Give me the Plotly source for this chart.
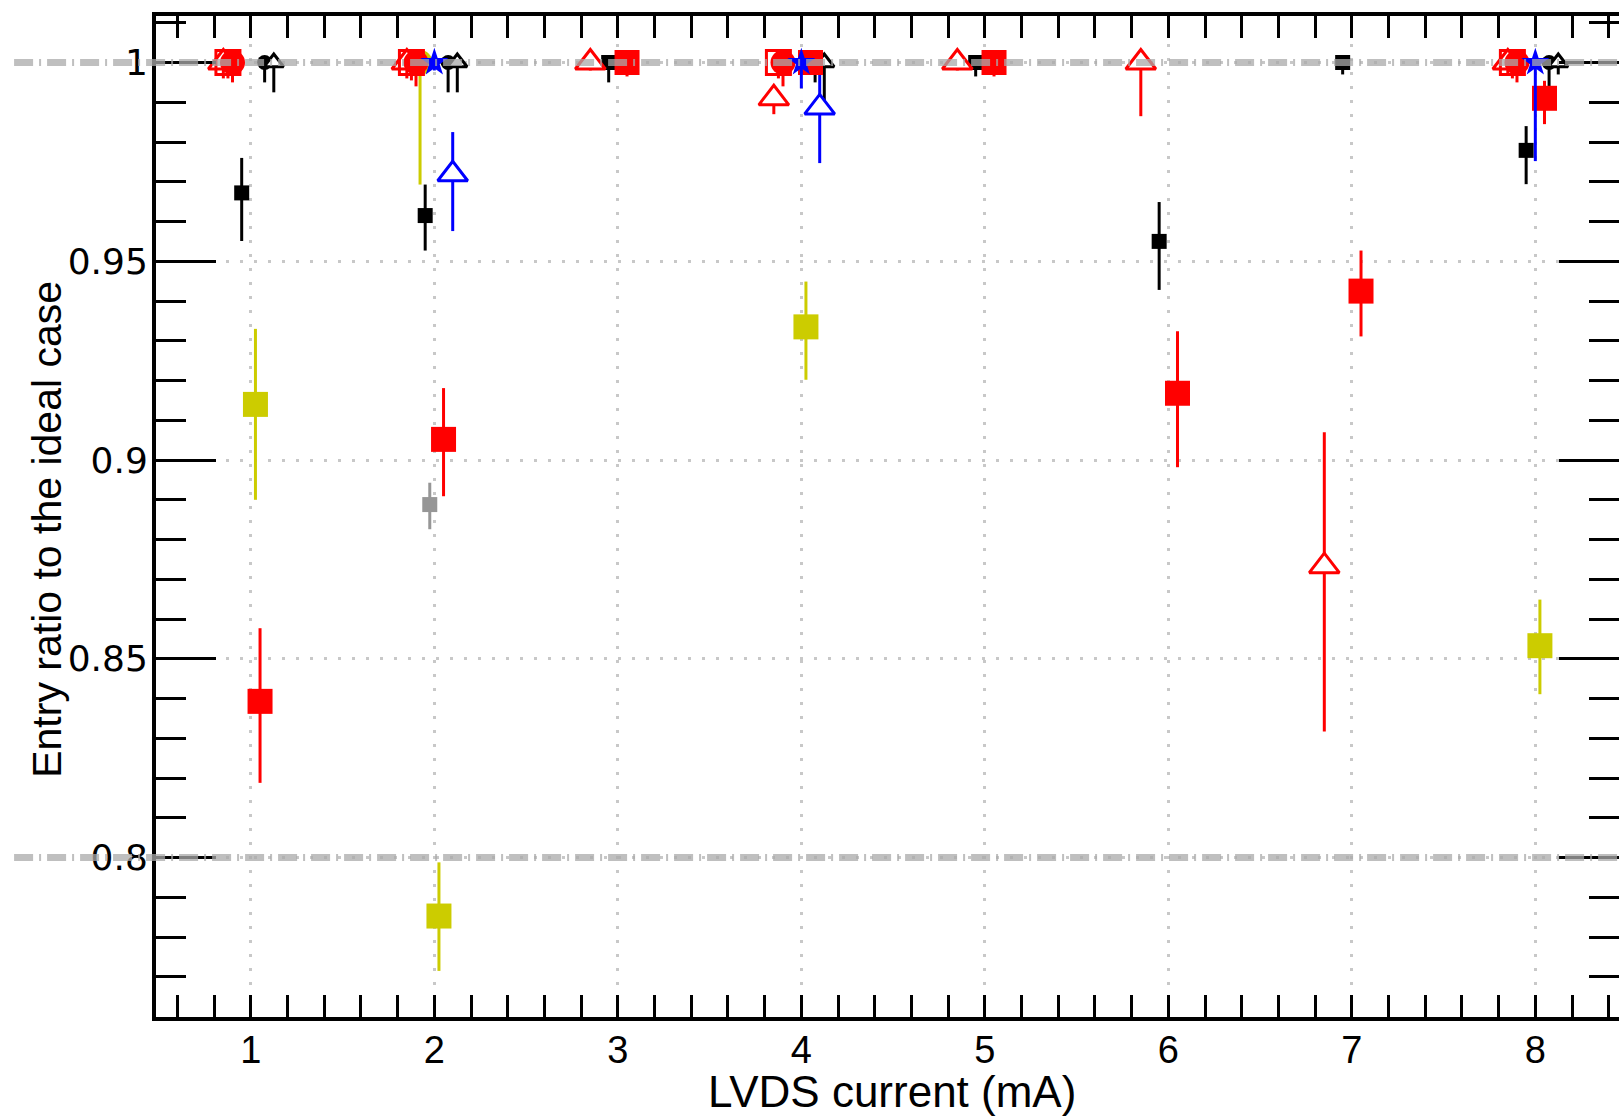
import plotly.graph_objects as go

# LVDS drive current settings (mA)
currents = [1, 2, 3, 4, 5, 6, 7, 8]

# Ratio of recorded entries to the ideal case, with asymmetric uncertainties
sq_red_x = [1, 2, 3, 4, 5, 6, 7, 8]
sq_red_y = [0.8393, 0.9052, 1.0, 1.0, 1.0, 0.9168, 0.9425, 0.991]
sq_red_up = [0.0184, 0.0129, 0.0, 0.0, 0.0, 0.0156, 0.0102, 0.0044]
sq_red_dn = [0.0205, 0.0143, 0.0035, 0.003, 0.0035, 0.0186, 0.0114, 0.0065]

sq_yel_x = [1, 2, 4, 8]
sq_yel_y = [0.914, 0.7853, 0.9335, 0.8533]
sq_yel_up = [0.019, 0.0135, 0.0114, 0.0116]
sq_yel_dn = [0.024, 0.0138, 0.0133, 0.0122]

sq_blk_x = [1, 2, 3, 5, 6, 7, 8]
sq_blk_y = [0.9672, 0.9615, 1.0, 1.0, 0.955, 1.0, 0.9779]
sq_blk_up = [0.0088, 0.0078, 0.0, 0.0, 0.0099, 0.0, 0.0061]
sq_blk_dn = [0.0121, 0.0088, 0.005, 0.0035, 0.0122, 0.003, 0.0085]

sq_gry_x = [2]
sq_gry_y = [0.8888]
sq_gry_up = [0.0055]
sq_gry_dn = [0.0062]

tri_red_x = [1, 2, 3, 4, 5, 6, 7, 8]
tri_red_y = [1.0, 1.0, 1.0, 0.991, 1.0, 1.0, 0.8733, 1.0]
tri_red_up = [0.0, 0.0, 0.0, 0.003, 0.0, 0.0, 0.0337, 0.0]
tri_red_dn = [0.004, 0.004, 0.002, 0.004, 0.002, 0.0135, 0.0416, 0.003]

osq_red_x = [1, 2, 4, 8]
osq_red_y = [1.0, 1.0, 1.0, 1.0]
osq_red_up = [0.0, 0.0, 0.0, 0.0]
osq_red_dn = [0.004, 0.0045, 0.004, 0.004]

cir_red_x = [1, 2, 4, 8]
cir_red_y = [1.0, 1.0, 1.0, 1.0]
cir_red_up = [0.0, 0.0, 0.0, 0.0]
cir_red_dn = [0.005, 0.006, 0.006, 0.005]

cir_yel_x = [2]
cir_yel_y = [1.0]
cir_yel_up = [0.0]
cir_yel_dn = [0.0307]

star_blu_x = [2, 4, 8]
star_blu_y = [1.0, 1.0, 1.0]
star_blu_up = [0.0, 0.0, 0.0]
star_blu_dn = [0.002, 0.0065, 0.0248]

cir_blk_x = [1, 2, 4, 8]
cir_blk_y = [1.0, 1.0, 1.0, 1.0]
cir_blk_up = [0.0, 0.0, 0.0, 0.0]
cir_blk_dn = [0.005, 0.0075, 0.005, 0.006]

otri_blu_x = [2, 4]
otri_blu_y = [0.9719, 0.9887]
otri_blu_up = [0.0106, 0.0084]
otri_blu_dn = [0.0143, 0.014]

otri_blk_x = [1, 2, 4, 8]
otri_blk_y = [1.0, 1.0, 1.0, 1.0]
otri_blk_up = [0.0, 0.0, 0.0, 0.0]
otri_blk_dn = [0.0075, 0.0075, 0.0095, 0.003]

RED = "rgb(255,0,0)"
YEL = "rgb(204,204,0)"
BLU = "rgb(0,0,255)"
BLK = "rgb(0,0,0)"
GRY = "rgb(150,150,150)"
WHT = "rgb(255,255,255)"

# (x, y, up, down, horizontal offset, symbol, size, fill, edge colour, edge width)
# listed in drawing order
series = [
    (cir_yel_x, cir_yel_y, cir_yel_up, cir_yel_dn, -0.078, "circle", 25, YEL, YEL, 0),
    (sq_gry_x, sq_gry_y, sq_gry_up, sq_gry_dn, -0.025, "square", 15, GRY, GRY, 0),
    (sq_blk_x, sq_blk_y, sq_blk_up, sq_blk_dn, -0.05, "square", 15, BLK, BLK, 0),
    (tri_red_x, tri_red_y, tri_red_up, tri_red_dn, -0.15, "triangle-up", 26, WHT, RED, 3),
    (osq_red_x, osq_red_y, osq_red_up, osq_red_dn, -0.125, "square-open", 24, RED, RED, 3),
    (cir_red_x, cir_red_y, cir_red_up, cir_red_dn, -0.1, "circle", 25, RED, RED, 0),
    (sq_yel_x, sq_yel_y, sq_yel_up, sq_yel_dn, 0.025, "square", 25, YEL, YEL, 0),
    (cir_blk_x, cir_blk_y, cir_blk_up, cir_blk_dn, 0.075, "circle", 15, BLK, BLK, 0),
    (otri_blk_x, otri_blk_y, otri_blk_up, otri_blk_dn, 0.125, "triangle-up", 17, WHT, BLK, 3),
    (otri_blu_x, otri_blu_y, otri_blu_up, otri_blu_dn, 0.1, "triangle-up", 26, WHT, BLU, 3),
    (sq_red_x, sq_red_y, sq_red_up, sq_red_dn, 0.05, "square", 25, RED, RED, 0),
    (star_blu_x, star_blu_y, star_blu_up, star_blu_dn, 0.0, "star", 21, BLU, BLU, 0),
]

fig = go.Figure()
for xs, ys, up, dn, dx, sym, size, fill, edge, lw in series:
    fig.add_trace(go.Scatter(
        x=[v + dx for v in xs],
        y=ys,
        mode="markers",
        marker=dict(symbol=sym, size=size, color=fill,
                    line=dict(color=edge, width=lw)),
        error_y=dict(type="data", symmetric=False, array=up, arrayminus=dn,
                     color=edge, thickness=3, width=0),
        showlegend=False,
        cliponaxis=True,
    ))

# carrier trace for the right-hand tick axis
fig.add_trace(go.Scatter(x=currents, y=[1.0] * len(currents), yaxis="y2",
                         mode="markers", marker=dict(opacity=0),
                         hoverinfo="skip", showlegend=False))

# reference levels at 1 and 0.8
for level in (1.0, 0.8):
    fig.add_shape(type="line", xref="paper", yref="y",
                  x0=-0.097, x1=1.02, y0=level, y1=level,
                  line=dict(color="rgba(170,170,170,0.75)", width=7,
                            dash="19px,6px,2px,6px"),
                  layer="above")

FONT = "Liberation Sans, Arial, Helvetica, sans-serif"
YFONT = "DejaVu Sans, Verdana, sans-serif"
YRANGE = [0.7599, 1.0117]

ytick_common = dict(
    range=YRANGE,
    tick0=0, dtick=0.05,
    ticks="inside", ticklen=60, tickwidth=3, tickcolor="black",
    minor=dict(dtick=0.01, ticks="inside", ticklen=30, tickwidth=3,
               tickcolor="black", showgrid=False),
    zeroline=False,
)

fig.update_layout(
    width=1619, height=1119,
    margin=dict(l=156, r=0, t=16, b=102),
    paper_bgcolor="white", plot_bgcolor="white",
    font=dict(family=FONT, color="black"),
    xaxis=dict(
        range=[0.483, 8.456],
        tick0=0, dtick=1,
        ticks="inside", ticklen=22, tickwidth=3, tickcolor="black",
        minor=dict(dtick=0.2, ticks="inside", ticklen=12, tickwidth=3,
                   tickcolor="black", showgrid=False),
        showline=True, linewidth=4, linecolor="black", mirror="allticks",
        showgrid=True, gridcolor="rgb(200,200,200)", gridwidth=3,
        griddash="3px,11px",
        zeroline=False,
        tickfont=dict(size=38, family=FONT),
        ticklabelstandoff=-4,
    ),
    yaxis=dict(
        **ytick_common,
        showline=True, linewidth=4, linecolor="black", mirror=False,
        showgrid=True, gridcolor="rgb(200,200,200)", gridwidth=3,
        griddash="3px,11px",
        tickfont=dict(size=36, family=YFONT),
        ticklabelstandoff=-3,
    ),
    yaxis2=dict(
        **ytick_common,
        overlaying="y", side="right", matches="y",
        showline=False, showgrid=False, showticklabels=False,
    ),
    annotations=[
        dict(text="LVDS current (mA)", xref="paper", yref="paper",
             x=0.503, y=-0.074, xanchor="center", yanchor="middle",
             showarrow=False, font=dict(size=44, family=FONT)),
        dict(text="Entry ratio to the ideal case", xref="paper", yref="paper",
             x=-0.075, y=0.487, xanchor="center", yanchor="middle",
             textangle=-90, showarrow=False, font=dict(size=41, family=FONT)),
    ],
)

fig.write_html("out.html")
